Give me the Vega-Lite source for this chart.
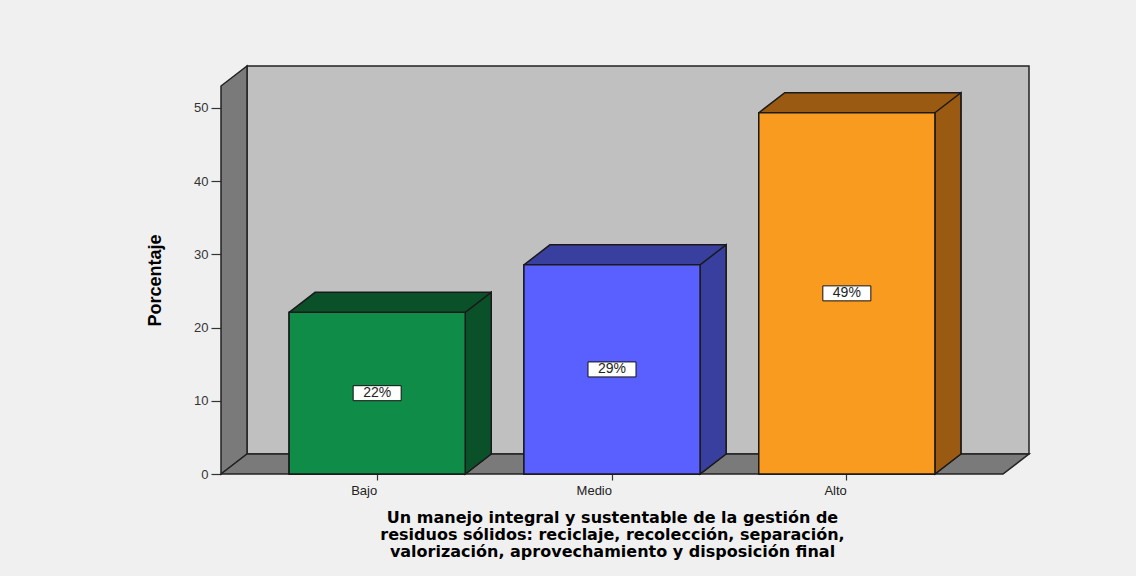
{
  "$schema": "https://vega.github.io/schema/vega-lite/v6.json",
  "width": 782,
  "height": 388,
  "autosize": {"type": "none"},
  "padding": {"left": 221, "top": 86, "right": 133, "bottom": 102},
  "background": "#f0f0f0",
  "config": {"view": {"stroke": null}, "font": "Liberation Sans"},
  "data": {"values": [
    {"cat": "Bajo", "value": 22.08, "label": "22%"},
    {"cat": "Medio", "value": 28.57, "label": "29%"},
    {"cat": "Alto", "value": 49.35, "label": "49%"}
  ]},
  "layer": [
    {
      "data": {"values": [{"w": "back"}]},
      "mark": {"type": "rect", "fill": "#c0c0c0", "stroke": "#222222", "strokeWidth": 1.5, "xOffset": 26, "x2Offset": 26, "yOffset": -20, "y2Offset": -20},
      "encoding": {"x": {"value": 0}, "x2": {"value": "width"}, "y": {"value": 0}, "y2": {"value": "height"}}
    },
    {
      "data": {"values": [{"e": "f"}, {"e": "b"}]},
      "mark": {"type": "area", "fill": "#7a7a7a", "stroke": "#222222", "strokeWidth": 1.5, "opacity": 1,
        "xOffset": {"expr": "datum.e == 'b' ? 26 : 0"},
        "yOffset": {"expr": "datum.e == 'b' ? -20 : 0"},
        "y2Offset": {"expr": "datum.e == 'b' ? -20 : 0"}},
      "encoding": {"x": {"value": 0}, "y": {"value": 0}, "y2": {"value": "height"}}
    },
    {
      "data": {"values": [{"e": "a"}, {"e": "b"}, {"e": "c"}, {"e": "d"}]},
      "mark": {"type": "area", "fill": "#7a7a7a", "stroke": "#222222", "strokeWidth": 1.5, "opacity": 1,
        "xOffset": {"expr": "datum.e == 'a' ? 0 : datum.e == 'b' ? 26 : datum.e == 'c' ? width : width + 26"},
        "yOffset": {"expr": "datum.e == 'a' ? 0 : -20"},
        "y2Offset": {"expr": "datum.e == 'd' ? -20 : 0"}},
      "encoding": {"x": {"value": 0}, "y": {"value": "height"}, "y2": {"value": "height"}}
    },
    {
      "transform": [{"fold": ["p1", "p2", "p3", "p4"], "as": ["pt", "pv"]}],
      "mark": {"type": "area", "stroke": "#1a1a1a", "strokeWidth": 1.5, "opacity": 1,
        "xOffset": {"expr": "datum.pt == 'p1' ? 0 : datum.pt == 'p2' ? 26 : datum.pt == 'p3' ? bandwidth('x') : bandwidth('x') + 26"},
        "yOffset": {"expr": "datum.pt == 'p1' ? 0 : -20"},
        "y2Offset": {"expr": "datum.pt == 'p4' ? -20 : 0"}},
      "encoding": {
        "x": {"field": "cat", "type": "nominal", "sort": ["Bajo", "Medio", "Alto"], "bandPosition": 0,
          "scale": {"paddingInner": 0.25, "paddingOuter": 0.29}},
        "y": {"field": "value", "type": "quantitative", "stack": null, "scale": {"domain": [0, 53], "nice": false}},
        "y2": {"datum": 0},
        "color": {"field": "cat", "type": "nominal", "scale": {"domain": ["Bajo", "Medio", "Alto"], "range": ["#0a5029", "#393f9f", "#9a5a12"]}, "legend": null}
      }
    },
    {
      "transform": [{"fold": ["f", "b"], "as": ["sd", "sv"]}],
      "mark": {"type": "area", "stroke": "#1a1a1a", "strokeWidth": 1.5, "opacity": 1,
        "xOffset": {"expr": "bandwidth('x') + (datum.sd == 'b' ? 26 : 0)"},
        "yOffset": {"expr": "datum.sd == 'b' ? -20 : 0"},
        "y2Offset": {"expr": "datum.sd == 'b' ? -20 : 0"}},
      "encoding": {
        "x": {"field": "cat", "type": "nominal", "sort": ["Bajo", "Medio", "Alto"], "bandPosition": 0},
        "y": {"field": "value", "type": "quantitative", "stack": null},
        "y2": {"datum": 0},
        "color": {"field": "cat", "type": "nominal", "legend": null}
      }
    },
    {
      "mark": {"type": "bar", "stroke": "#1a1a1a", "strokeWidth": 1.5},
      "encoding": {
        "x": {"field": "cat", "type": "nominal", "sort": ["Bajo", "Medio", "Alto"],
          "axis": {
            "title": ["Un manejo integral y sustentable de la gestión de", "residuos sólidos: reciclaje, recolección, separación,", "valorización, aprovechamiento y disposición final"],
            "domain": false, "grid": false, "tickSize": 6, "tickColor": "#333333", "tickWidth": 1.2,
            "labelAngle": 0, "labelFontSize": 13, "labelColor": "#222222", "labelPadding": 10, "labelFont": "Liberation Sans",
            "titleFont": "DejaVu Sans", "titleFontSize": 16, "titleFontWeight": "bold", "titleColor": "#000000",
            "titleLineHeight": 17, "titlePadding": 12
          }},
        "y": {"field": "value", "type": "quantitative",
          "axis": {
            "title": "Porcentaje", "values": [0, 10, 20, 30, 40, 50], "domain": false, "grid": false,
            "tickSize": 10, "tickColor": "#333333", "tickWidth": 1.2,
            "labelFontSize": 13, "labelColor": "#333333", "labelPadding": 3, "labelFont": "Liberation Sans",
            "titleFont": "Liberation Sans", "titleFontSize": 18, "titleFontWeight": "bold", "titleColor": "#000000", "titlePadding": 29
          }},
        "fill": {"field": "cat", "type": "nominal", "scale": {"domain": ["Bajo", "Medio", "Alto"], "range": ["#0f8c47", "#5a5fff", "#f99b1f"]}, "legend": null}
      }
    },
    {
      "mark": {"type": "point", "shape": "M-1.6,-0.5H1.6V0.5H-1.6Z", "size": 900, "filled": true, "fill": "#ffffff", "stroke": "#111111", "strokeWidth": 1, "opacity": 1,
        "yOffset": {"expr": "(height - scale('y', datum.value)) / 2"}},
      "encoding": {
        "x": {"field": "cat", "type": "nominal", "sort": ["Bajo", "Medio", "Alto"]},
        "y": {"field": "value", "type": "quantitative"}
      }
    },
    {
      "mark": {"type": "text", "fontSize": 14, "font": "Liberation Sans", "fill": "#222222", "align": "center", "baseline": "middle",
        "yOffset": {"expr": "(height - scale('y', datum.value)) / 2"}},
      "encoding": {
        "x": {"field": "cat", "type": "nominal", "sort": ["Bajo", "Medio", "Alto"]},
        "y": {"field": "value", "type": "quantitative"},
        "text": {"field": "label"}
      }
    }
  ]
}
